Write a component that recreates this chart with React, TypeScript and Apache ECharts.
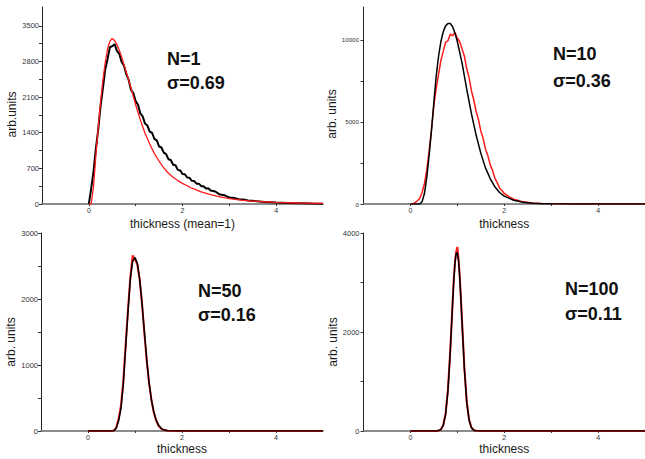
import React, { useEffect, useRef } from "react";
import * as echarts from "echarts";

const FONT = "'Liberation Sans', Arial, Helvetica, sans-serif";

// ---------- data ----------
const xLabelValues = [0, 2, 4];
const xTickValues = [0, 1, 2, 3, 4];

// Panel 1 (N=1)
const p1BlackX = [0, 0.05, 0.1, 0.15, 0.2, 0.25, 0.3, 0.35, 0.4, 0.45, 0.5, 0.55, 0.6, 0.65, 0.7, 0.75, 0.8, 0.85, 0.9, 0.95, 1.0, 1.05, 1.1, 1.15, 1.2, 1.25, 1.3, 1.35, 1.4, 1.45, 1.5, 1.55, 1.6, 1.65, 1.7, 1.75, 1.8, 1.85, 1.9, 1.95, 2.0, 2.05, 2.1, 2.15, 2.2, 2.25, 2.3, 2.35, 2.4, 2.45, 2.5, 2.55, 2.6, 2.7, 2.8, 2.9, 3.0, 3.1, 3.2, 3.3, 3.4, 3.5, 3.75, 4.0, 4.25, 4.5, 4.75, 5.0];
const p1BlackY = [0, 300, 640, 1090, 1460, 1920, 2270, 2640, 2850, 3080, 3100, 3140, 3010, 2950, 2790, 2720, 2550, 2440, 2240, 2180, 2020, 1950, 1780, 1720, 1580, 1540, 1420, 1400, 1280, 1250, 1130, 1110, 1010, 980, 880, 865, 770, 760, 670, 660, 590, 585, 520, 515, 455, 450, 400, 400, 350, 350, 305, 310, 265, 245, 185, 170, 128, 120, 92, 88, 68, 62, 40, 28, 18, 13, 8, 6];
const p1RedX = [0, 0.05, 0.1, 0.15, 0.2, 0.25, 0.3, 0.35, 0.4, 0.45, 0.5, 0.55, 0.6, 0.65, 0.7, 0.8, 0.9, 1.0, 1.1, 1.2, 1.3, 1.4, 1.5, 1.6, 1.7, 1.8, 1.9, 2.0, 2.2, 2.4, 2.6, 2.8, 3.0, 3.25, 3.5, 3.75, 4.0, 4.5, 5.0];
const p1RedY = [0, 0, 340, 950, 1500, 2000, 2430, 2780, 3050, 3200, 3250, 3210, 3130, 3020, 2890, 2590, 2280, 1950, 1650, 1390, 1180, 990, 840, 710, 605, 525, 460, 405, 310, 240, 185, 140, 105, 78, 58, 44, 33, 20, 12];

// Panel 2 (N=10)
const p2BlackX = [0, 0.1, 0.2, 0.25, 0.3, 0.35, 0.4, 0.45, 0.5, 0.55, 0.6, 0.65, 0.7, 0.75, 0.8, 0.85, 0.9, 0.95, 1.0, 1.1, 1.2, 1.3, 1.4, 1.5, 1.6, 1.7, 1.8, 1.9, 2.0, 2.2, 2.4, 2.6, 2.8, 3.0, 3.5, 4, 5];
const p2BlackY = [0, 0, 0, 150, 650, 1650, 3000, 4500, 6200, 7800, 9000, 9900, 10500, 10850, 11000, 11000, 10800, 10400, 9900, 8600, 7000, 5500, 4200, 3100, 2200, 1550, 1050, 700, 480, 230, 110, 50, 22, 10, 0, 0, 0];
const p2RedX = [0, 0.05, 0.1, 0.15, 0.2, 0.25, 0.3, 0.35, 0.4, 0.45, 0.5, 0.55, 0.6, 0.65, 0.7, 0.75, 0.8, 0.85, 0.9, 0.95, 1.0, 1.05, 1.1, 1.15, 1.2, 1.25, 1.3, 1.35, 1.4, 1.45, 1.5, 1.55, 1.6, 1.65, 1.7, 1.75, 1.8, 1.85, 1.9, 1.95, 2.0, 2.1, 2.2, 2.3, 2.4, 2.6, 2.8, 3.0, 3.5, 4, 5];
const p2RedY = [0, 20, 80, 200, 350, 720, 1250, 2100, 3250, 4600, 6000, 7050, 7900, 8750, 9300, 9850, 9950, 10350, 10250, 10450, 10100, 9900, 9450, 9000, 8250, 7700, 6900, 6350, 5650, 5150, 4450, 4000, 3350, 2950, 2400, 2050, 1580, 1300, 980, 820, 640, 450, 290, 210, 130, 55, 25, 10, 2, 0, 0];

// Panel 3 (N=50)
const p3X = [0, 0.5, 0.55, 0.6, 0.65, 0.7, 0.75, 0.8, 0.85, 0.9, 0.95, 1.0, 1.05, 1.1, 1.15, 1.2, 1.25, 1.3, 1.35, 1.4, 1.45, 1.5, 1.55, 1.6, 1.7, 2, 3, 4, 5];
const p3BlackY = [0, 0, 5, 40, 150, 330, 700, 1250, 1800, 2300, 2570, 2630, 2540, 2300, 1930, 1500, 1080, 730, 470, 290, 165, 90, 45, 20, 5, 0, 0, 0, 0];
const p3RedY = [0, 0, 8, 50, 180, 380, 740, 1300, 1830, 2320, 2660, 2600, 2520, 2290, 1920, 1480, 1060, 720, 470, 280, 160, 80, 40, 18, 5, 0, 0, 0, 0];

// Panel 4 (N=100)
const p4X = [0, 0.55, 0.6, 0.65, 0.7, 0.75, 0.8, 0.85, 0.9, 0.925, 0.95, 0.975, 1.0, 1.025, 1.05, 1.075, 1.1, 1.15, 1.2, 1.25, 1.3, 1.35, 1.4, 1.5, 2, 3, 4, 5];
const p4BlackY = [0, 0, 6, 30, 112, 335, 815, 1610, 2590, 3040, 3390, 3586, 3605, 3443, 3120, 2686, 2197, 1257, 585, 222, 68, 17, 4, 0, 0, 0, 0, 0];
const p4RedY = [0, 0, 8, 35, 120, 350, 840, 1640, 2620, 3080, 3420, 3620, 3720, 3480, 3150, 2700, 2230, 1280, 600, 230, 70, 18, 4, 0, 0, 0, 0, 0];

// y axis values
const p1YLabels = [0, 700, 1400, 2100, 2800, 3500];
const p1YTicks = [0, 350, 700, 1050, 1400, 1750, 2100, 2450, 2800, 3150, 3500];
const p2YLabels = [0, 5000, 10000];
const p2YTicks = [0, 2500, 5000, 7500, 10000];
const p3YLabels = [0, 1000, 2000, 3000];
const p3YTicks = [0, 500, 1000, 1500, 2000, 2500, 3000];
const p4YLabels = [0, 2000, 4000];
const p4YTicks = [0, 1000, 2000, 3000, 4000];
const yMaxes = [3870, 12000, 3000, 4000];

const xNames = ["thickness (mean=1)", "thickness", "thickness", "thickness"];
const yNames = ["arb.units", "arb. units", "arb. units", "arb. units"];
const nLabels = ["N=1", "N=10", "N=50", "N=100"];
const sigmaLabels = ["\u03c3=0.69", "\u03c3=0.36", "\u03c3=0.16", "\u03c3=0.11"];

const zip = (xs: number[], ys: number[]) => xs.map((x, i) => [x, ys[i]]);

export default function App() {
  const ref = useRef<HTMLDivElement>(null);
  useEffect(() => {
    const chart = echarts.init(ref.current!, null, { renderer: "svg" });

    const layouts = [
      { left: 42, top: 7, width: 281, height: 197 },
      { left: 363.5, top: 7, width: 284.5, height: 197 },
      { left: 41, top: 233, width: 282, height: 198 },
      { left: 363.5, top: 233, width: 284.5, height: 198 },
    ];
    const yLabelSets = [p1YLabels, p2YLabels, p3YLabels, p4YLabels];
    const yTickSets = [p1YTicks, p2YTicks, p3YTicks, p4YTicks];
    const yLabelSizes = [7.5, 6.2, 7.5, 7.5];
    const yLabelMargins = [3, 4.5, 3, 4];
    const yNameGaps = [21, 24.5, 21, 21.5];
    const yNameShift = [18, 17, 20, 20];
    const xNameGaps = [14, 14, 12, 12];
    const textPos = [
      { x: 167, y: 49.5, y2: 74 },
      { x: 553, y: 45, y2: 72 },
      { x: 198, y: 282, y2: 306 },
      { x: 565, y: 280, y2: 305 },
    ];

    const plain = (v: number) => String(Math.round(v));

    const grid = layouts.map((l) => ({ ...l, containLabel: false }));
    const xAxis = layouts.map((_, i) => ({
      type: "value",
      gridIndex: i,
      min: -1,
      max: 5,
      name: xNames[i],
      nameLocation: "middle",
      nameGap: xNameGaps[i],
      nameTextStyle: { fontSize: 12, color: "#1a1a1a", fontFamily: FONT },
      axisLine: { show: true, onZero: false, lineStyle: { color: "#666", width: 1.5 } },
      axisTick: { show: true, customValues: xTickValues, length: 2, lineStyle: { color: "#333" } },
      axisLabel: { customValues: xLabelValues, fontSize: 7, color: "#333", margin: 3, fontFamily: FONT, formatter: plain },
      splitLine: { show: false },
    }));
    const yAxis = layouts.map((_, i) => ({
      type: "value",
      gridIndex: i,
      min: 0,
      max: yMaxes[i],
      name: yNames[i],
      nameLocation: "middle",
      nameGap: yNameGaps[i],
      nameTextStyle: { fontSize: 12, color: "#1a1a1a", fontFamily: FONT, padding: [0, yNameShift[i], 0, 0] },
      axisLine: { show: true, onZero: false, lineStyle: { color: "#222", width: 1 } },
      axisTick: { show: true, customValues: yTickSets[i], length: 3, lineStyle: { color: "#333" } },
      axisLabel: { customValues: yLabelSets[i], fontSize: yLabelSizes[i], color: "#333", margin: yLabelMargins[i], fontFamily: FONT, formatter: plain },
      splitLine: { show: false },
    }));

    const line = (i: number, data: number[][], color: string, width: number) => ({
      type: "line",
      xAxisIndex: i,
      yAxisIndex: i,
      data,
      symbol: "none",
      clip: true,
      lineStyle: { color, width },
      itemStyle: { color },
    });

    const series = [
      line(0, zip(p1BlackX, p1BlackY), "#000", 2),
      line(0, zip(p1RedX, p1RedY), "#ff1a1a", 1.3),
      line(1, zip(p2RedX, p2RedY), "#ff1a1a", 1.5),
      line(1, zip(p2BlackX, p2BlackY), "#000", 1.5),
      line(2, zip(p3X, p3RedY), "#ff1a1a", 2),
      line(2, zip(p3X, p3BlackY), "#000", 1.5),
      line(3, zip(p4X, p4RedY), "#ff1a1a", 2),
      line(3, zip(p4X, p4BlackY), "#000", 1.5),
    ];

    const graphic: any[] = [];
    textPos.forEach((p, i) => {
      graphic.push({
        type: "text",
        left: p.x,
        top: p.y,
        style: { text: nLabels[i], fontSize: 18, fontWeight: "bold", fill: "#111", fontFamily: FONT },
      });
      graphic.push({
        type: "text",
        left: p.x,
        top: p.y2,
        style: { text: sigmaLabels[i], fontSize: 18, fontWeight: "bold", fill: "#111", fontFamily: FONT },
      });
    });

    chart.setOption({
      animation: false,
      textStyle: { fontFamily: FONT },
      grid,
      xAxis,
      yAxis,
      series,
      graphic,
    } as any);
    return () => chart.dispose();
  }, []);
  return (
    <div
      ref={ref}
      style={{ position: "absolute", left: 0, top: 0, width: 645, height: 459, background: "#fff" }}
    />
  );
}
